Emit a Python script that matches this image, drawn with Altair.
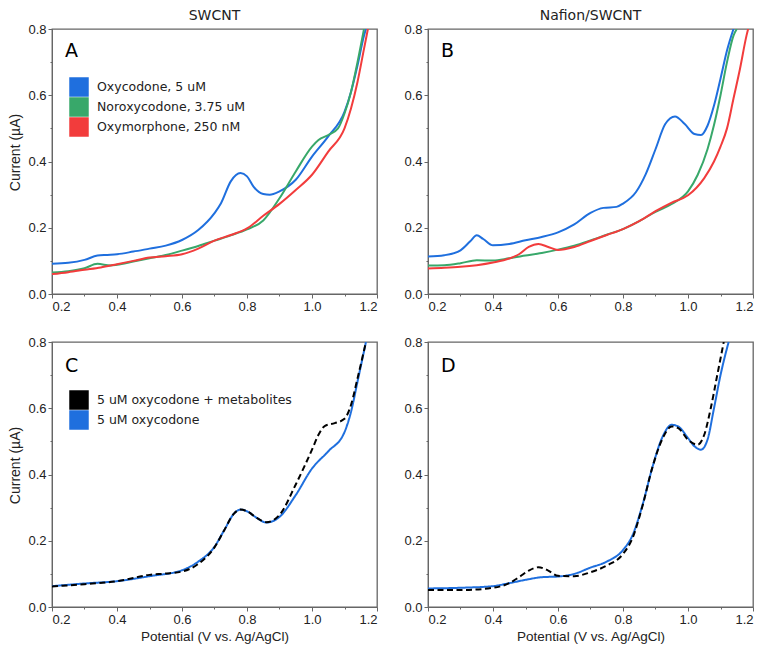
import altair as alt
import pandas as pd

BLUE = "#1f6fde"
GREEN = "#38a86a"
RED = "#f23c3c"
BLACK = "#000000"

X_TICKS = [0.2, 0.3, 0.4, 0.5, 0.6, 0.7, 0.8, 0.9, 1.0, 1.1, 1.2]
Y_TICKS = [0.0, 0.1, 0.2, 0.3, 0.4, 0.5, 0.6, 0.7, 0.8]

# ---- Panel A (SWCNT) ----
a_names = ["Oxycodone, 5 uM", "Noroxycodone, 3.75 uM", "Oxymorphone, 250 nM"]
a_blue_v = [0.2, 0.25, 0.3, 0.34, 0.37, 0.4, 0.45, 0.5, 0.55, 0.6, 0.65, 0.7, 0.72, 0.75, 0.78,
            0.8, 0.82, 0.85, 0.87, 0.9, 0.95, 1.0, 1.05, 1.1, 1.12, 1.14, 1.16, 1.166]
a_blue_i = [0.091, 0.094, 0.103, 0.116, 0.118, 0.12, 0.128, 0.137, 0.146, 0.163, 0.193, 0.244, 0.274,
            0.34, 0.365, 0.355, 0.324, 0.302, 0.30, 0.31, 0.345, 0.415, 0.476, 0.55, 0.61, 0.69, 0.78, 0.80]
a_green_v = [0.2, 0.25, 0.3, 0.34, 0.38, 0.4, 0.45, 0.5, 0.55, 0.6, 0.65, 0.7, 0.75, 0.8, 0.85, 0.9,
             0.95, 1.0, 1.02, 1.05, 1.08, 1.1, 1.12, 1.14, 1.16]
a_green_i = [0.065, 0.069, 0.078, 0.091, 0.086, 0.088, 0.098, 0.108, 0.118, 0.131, 0.145, 0.161, 0.177,
             0.195, 0.222, 0.289, 0.37, 0.445, 0.465, 0.48, 0.50, 0.545, 0.61, 0.70, 0.80]
a_red_v = [0.2, 0.25, 0.3, 0.35, 0.4, 0.45, 0.5, 0.55, 0.6, 0.65, 0.7, 0.75, 0.8, 0.85, 0.9, 0.95,
           1.0, 1.05, 1.1, 1.12, 1.14, 1.16, 1.172]
a_red_i = [0.060, 0.066, 0.073, 0.08, 0.09, 0.10, 0.11, 0.114, 0.12, 0.137, 0.161, 0.178, 0.198,
           0.236, 0.272, 0.314, 0.36, 0.43, 0.50, 0.56, 0.64, 0.74, 0.80]

# ---- Panel B (Nafion/SWCNT) ----
b_blue_v = [0.2, 0.25, 0.3, 0.33, 0.35, 0.37, 0.4, 0.45, 0.5, 0.55, 0.6, 0.65, 0.7, 0.74, 0.78, 0.8,
            0.84, 0.87, 0.9, 0.93, 0.96, 0.99, 1.02, 1.04, 1.06, 1.08, 1.1, 1.12, 1.14]
b_blue_i = [0.113, 0.117, 0.132, 0.159, 0.177, 0.166, 0.147, 0.151, 0.162, 0.172, 0.186, 0.21, 0.245,
            0.26, 0.263, 0.273, 0.308, 0.362, 0.437, 0.513, 0.536, 0.513, 0.483, 0.48, 0.508, 0.569,
            0.65, 0.735, 0.80]
b_green_v = [0.2, 0.25, 0.3, 0.35, 0.4, 0.45, 0.5, 0.55, 0.6, 0.65, 0.7, 0.75, 0.8, 0.85, 0.9, 0.95,
             1.0, 1.03, 1.06, 1.08, 1.1, 1.12, 1.14, 1.15]
b_green_i = [0.086, 0.087, 0.093, 0.102, 0.101, 0.108, 0.116, 0.124, 0.134, 0.146, 0.162, 0.179, 0.196,
             0.22, 0.248, 0.272, 0.31, 0.36, 0.437, 0.51, 0.60, 0.70, 0.78, 0.80]
b_red_v = [0.2, 0.25, 0.3, 0.35, 0.4, 0.45, 0.48, 0.51, 0.54, 0.57, 0.6, 0.65, 0.7, 0.75, 0.8, 0.85,
           0.9, 0.95, 1.0, 1.05, 1.08, 1.1, 1.12, 1.14, 1.16, 1.18, 1.185]
b_red_i = [0.077, 0.079, 0.082, 0.087, 0.095, 0.107, 0.12, 0.142, 0.151, 0.142, 0.133, 0.142, 0.16,
           0.178, 0.196, 0.22, 0.25, 0.276, 0.298, 0.35, 0.40, 0.445, 0.50, 0.59, 0.68, 0.78, 0.80]

# ---- Panel C (SWCNT, mixture) ----
cd_names = ["5 uM oxycodone + metabolites", "5 uM oxycodone"]
c_blue_v = [0.2, 0.3, 0.4, 0.5, 0.6, 0.65, 0.7, 0.73, 0.76, 0.78, 0.8, 0.83, 0.86, 0.9, 0.95, 1.0,
            1.05, 1.1, 1.12, 1.14, 1.166]
c_blue_i = [0.063, 0.071, 0.078, 0.093, 0.111, 0.137, 0.182, 0.232, 0.282, 0.294, 0.289, 0.269, 0.255,
            0.272, 0.338, 0.418, 0.47, 0.528, 0.589, 0.68, 0.80]
c_black_v = [0.2, 0.3, 0.4, 0.5, 0.55, 0.6, 0.65, 0.7, 0.73, 0.76, 0.78, 0.8, 0.83, 0.86, 0.9, 0.95,
             1.0, 1.02, 1.04, 1.07, 1.1, 1.12, 1.14, 1.166]
c_black_i = [0.062, 0.069, 0.078, 0.097, 0.101, 0.107, 0.13, 0.18, 0.232, 0.282, 0.294, 0.289, 0.269,
             0.256, 0.278, 0.37, 0.475, 0.52, 0.547, 0.555, 0.568, 0.61, 0.69, 0.80]

# ---- Panel D (Nafion/SWCNT, mixture) ----
d_blue_v = [0.2, 0.3, 0.4, 0.45, 0.5, 0.55, 0.6, 0.65, 0.7, 0.75, 0.8, 0.83, 0.86, 0.89, 0.92, 0.95,
            0.97, 1.0, 1.02, 1.04, 1.06, 1.08, 1.1, 1.125]
d_blue_i = [0.056, 0.058, 0.063, 0.072, 0.082, 0.09, 0.092, 0.10, 0.119, 0.137, 0.172, 0.218, 0.308,
            0.42, 0.51, 0.55, 0.545, 0.51, 0.485, 0.475, 0.505, 0.60, 0.70, 0.80]
d_black_v = [0.2, 0.3, 0.4, 0.45, 0.48, 0.51, 0.54, 0.57, 0.6, 0.65, 0.7, 0.75, 0.8, 0.83, 0.86, 0.89,
             0.92, 0.95, 0.97, 1.0, 1.03, 1.05, 1.07, 1.09, 1.11]
d_black_i = [0.051, 0.051, 0.058, 0.072, 0.09, 0.11, 0.12, 0.11, 0.094, 0.093, 0.105, 0.125, 0.16,
             0.21, 0.305, 0.42, 0.505, 0.545, 0.54, 0.505, 0.49, 0.52, 0.60, 0.70, 0.80]


def frame(series):
    rows = []
    for k, (name, vs, cs) in enumerate(series):
        for v, c in zip(vs, cs):
            rows.append({"series": name, "V": v, "I": c, "k": k})
    return pd.DataFrame(rows)


MAJOR = "round(datum.value * 10) % 2 == 0"
LBL = f"{MAJOR} ? format(datum.value, '.1f') : ''"
TICKSZ = {"condition": {"test": MAJOR, "value": 4}, "value": 2}
W, H = 325, 265


def panel(df, names, colors, letter, letter_y, title=None, ytitle=False, xtitle=False,
          dashed=False, show_legend=False):
    xax = dict(values=X_TICKS, labelExpr=LBL, tickSize=TICKSZ, grid=False,
               labelFont="Liberation Sans", labelFontSize=13, labelColor="#222",
               labelPadding=2, domainColor="#666", tickColor="#666", tickWidth=1,
               labelOverlap=False)
    if xtitle:
        xax.update(title="Potential (V vs. Ag/AgCl)", titleFont="Liberation Sans",
                   titleFontSize=13.5, titleFontWeight="normal", titleColor="#222", titlePadding=3)
    else:
        xax.update(title=None)
    yax = dict(values=Y_TICKS, labelExpr=LBL, tickSize=TICKSZ, grid=False,
               labelFont="Liberation Sans", labelFontSize=13, labelColor="#222",
               labelPadding=2, domainColor="#666", tickColor="#666", tickWidth=1,
               labelOverlap=False)
    if ytitle:
        yax.update(title="Current (µA)", titleFont="Liberation Sans", titleFontSize=14,
                   titleFontWeight="normal", titleColor="#222", titlePadding=5, titleY=123)
    else:
        yax.update(title=None)

    xenc = alt.X("V:Q", scale=alt.Scale(domain=[0.2, 1.2], nice=False, zero=False), axis=alt.Axis(**xax))
    yenc = alt.Y("I:Q", scale=alt.Scale(domain=[0, 0.8], nice=False), axis=alt.Axis(**yax))

    rev_names = names[::-1]
    rev_colors = colors[::-1]
    enc = dict(
        x=xenc, y=yenc,
        stroke=alt.Stroke("series:N", scale=alt.Scale(domain=rev_names, range=rev_colors), legend=None),
        order=alt.Order("k:Q"),
    )
    if dashed:
        enc["strokeDash"] = alt.StrokeDash("series:N",
                                           scale=alt.Scale(domain=rev_names, range=[[1, 0], [6, 3.5]]),
                                           legend=None)
    lines = alt.Chart(df).mark_line(strokeWidth=2, interpolate="monotone", clip=True).encode(**enc)
    layers = [lines]

    if show_legend:
        # legend carrier: zero-size filled squares sharing the series colours
        key = alt.Chart(df).mark_square(filled=True, opacity=1, size=0).encode(
            x=xenc, y=yenc,
            color=alt.Color("series:N", sort=names, scale=alt.Scale(domain=names, range=colors),
                            legend=alt.Legend(title=None, orient="none", legendX=17, legendY=48,
                                              symbolType="square", symbolSize=380,
                                              symbolStrokeWidth=0, symbolOpacity=1,
                                              labelFont="DejaVu Sans", labelFontSize=12.5,
                                              labelColor="#222", rowPadding=0, labelOffset=8,
                                              labelLimit=300, padding=0)),
        )
        layers.append(key)

    lab = alt.Chart(pd.DataFrame({"t": [letter]})).mark_text(
        font="DejaVu Sans", fontSize=19, align="left", baseline="alphabetic", color="#000"
    ).encode(x=alt.value(13), y=alt.value(letter_y), text="t:N")
    layers.append(lab)
    ch = alt.layer(*layers).properties(width=W, height=H)
    if title:
        ch = ch.properties(title=alt.TitleParams(text=title, font="DejaVu Sans", fontSize=14,
                                                 fontWeight="normal", color="#222", offset=0))
    return ch


dfA = frame([(a_names[0], a_blue_v, a_blue_i), (a_names[1], a_green_v, a_green_i),
             (a_names[2], a_red_v, a_red_i)])
dfB = frame([(a_names[0], b_blue_v, b_blue_i), (a_names[1], b_green_v, b_green_i),
             (a_names[2], b_red_v, b_red_i)])
dfC = frame([(cd_names[1], c_blue_v, c_blue_i), (cd_names[0], c_black_v, c_black_i)])
dfD = frame([(cd_names[1], d_blue_v, d_blue_i), (cd_names[0], d_black_v, d_black_i)])

pA = panel(dfA, a_names, [BLUE, GREEN, RED], "A", 28, title="SWCNT", ytitle=True, show_legend=True)
pB = panel(dfB, a_names, [BLUE, GREEN, RED], "B", 28, title="Nafion/SWCNT")
pC = panel(dfC, cd_names, [BLACK, BLUE], "C", 30, ytitle=True, xtitle=True, dashed=True,
           show_legend=True)
pD = panel(dfD, cd_names, [BLACK, BLUE], "D", 30, xtitle=True, dashed=True)

chart = alt.concat(
    pA, pB, pC, pD, columns=2, spacing={"row": 48, "column": 51}, bounds="flush"
).resolve_scale(
    color="independent", stroke="independent", strokeDash="independent"
).properties(
    padding={"left": 0, "top": 0, "right": 0, "bottom": 0},
    background="white",
).configure_view(stroke="#666", strokeWidth=1.3)

chart.save("out.html", embed_options={"renderer": "svg", "actions": False})
